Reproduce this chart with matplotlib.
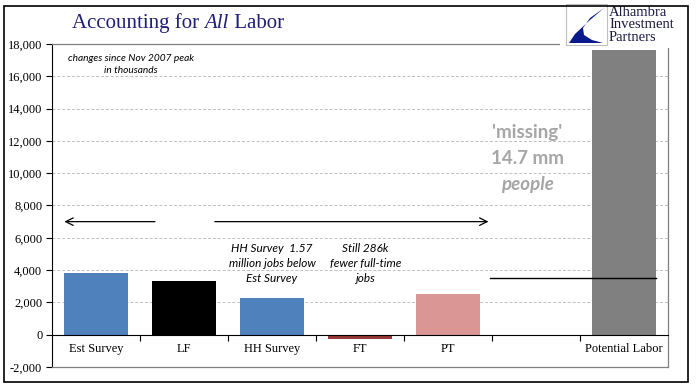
import matplotlib
matplotlib.use("Agg")
import matplotlib.pyplot as plt
from matplotlib.patches import Rectangle, Polygon

plt.rcParams["font.family"] = ["Liberation Serif", "DejaVu Serif"]
plt.rcParams["font.size"] = 9

categories = ["Est Survey", "LF", "HH Survey", "FT", "PT", "", "Potential Labor"]
values = [3820, 3300, 2250, -286, 2536, 0, 17600]
colors = ["#4F81BD", "#000000", "#4F81BD", "#953735", "#D99694", "#FFFFFF", "#808080"]
yticks = list(range(-2000, 18001, 2000))
missing_level = 3500
arrow_level = 7000

W, H = 696, 392
fig = plt.figure(figsize=(W / 100, H / 100), dpi=100)

def fx(px):
    return px / W

def fy(py):
    return 1 - py / H

ax = fig.add_axes([fx(52), fy(367), fx(668) - fx(52), fy(44) - fy(367)])
xs = list(range(len(categories)))
ax.bar(xs, values, width=0.72, color=colors, zorder=3)
ax.set_xlim(-0.5, len(categories) - 0.5)
ax.set_ylim(-2000, 18000)

ax.spines["bottom"].set_position(("data", 0))
ax.spines["bottom"].set_color("black")
ax.spines["bottom"].set_zorder(4)
ax.spines["left"].set_color("black")
for s in ["top", "right"]:
    ax.spines[s].set_color("#808080")
    ax.spines[s].set_linewidth(0.9)
ax.axhline(-2000, color="#808080", linewidth=0.9, clip_on=False, zorder=5)

ax.set_yticks(yticks)
ax.set_yticklabels([f"{v:,}" for v in yticks])
ax.yaxis.grid(True, color="#BFBFBF", linestyle=(0, (3, 2)), linewidth=0.7, zorder=0)
ax.tick_params(axis="y", direction="out", length=4, width=0.8, pad=3, labelsize=9)

ax.set_xticks(xs)
ax.set_xticklabels(categories)
ax.set_xticks([i + 0.5 for i in range(len(categories) - 1)], minor=True)
ax.tick_params(axis="x", which="major", length=0, pad=6, labelsize=9)
ax.tick_params(axis="x", which="minor", length=4, width=0.8, direction="out")

# arrows
ax.annotate("", xy=(-0.36, arrow_level), xytext=(0.67, arrow_level),
            arrowprops=dict(arrowstyle="->,head_length=0.6,head_width=0.3", lw=0.9, color="black",
                            shrinkA=0, shrinkB=0))
ax.annotate("", xy=(4.46, arrow_level), xytext=(1.35, arrow_level),
            arrowprops=dict(arrowstyle="->,head_length=0.6,head_width=0.3", lw=0.9, color="black",
                            shrinkA=0, shrinkB=0))
ax.plot([4.48, 6.36], [missing_level, missing_level], color="black", lw=1.0, zorder=4)

# annotations
ax.text(0.40, 16750, "changes since Nov 2007 peak\nin thousands", ha="center", va="center",
        fontfamily="Lato", style="italic", fontsize=7.3, linespacing=1.45)
ax.text(2.0, 4400, "HH Survey  1.57\nmillion jobs below\nEst Survey", ha="center", va="center",
        fontfamily="Lato", style="italic", fontsize=8.5, linespacing=1.45)
ax.text(3.06, 4400, "Still 286k\nfewer full-time\njobs", ha="center", va="center",
        fontfamily="Lato", style="italic", fontsize=8.5, linespacing=1.45)
ax.text(4.9, 12500, "'missing'", ha="center", va="center", fontfamily="Lato",
        fontweight="bold", fontsize=13.5, color="#A6A6A6")
ax.text(4.9, 10900, "14.7 mm", ha="center", va="center", fontfamily="Lato",
        fontweight="bold", fontsize=13.5, color="#A6A6A6")
ax.text(4.9, 9300, "people", ha="center", va="center", fontfamily="Lato",
        fontweight="bold", style="italic", fontsize=13.5, color="#A6A6A6")

# title
title_color = "#1F1F7A"
fig.canvas.draw()
r = fig.canvas.get_renderer()
t1 = fig.text(fx(72), fy(23), "Accounting for ", fontsize=15,
              color=title_color, va="center", ha="left")
e1 = t1.get_window_extent(r)
t2 = fig.text(e1.x1 / W, fy(23), "All", fontsize=15,
              style="italic", color=title_color, va="center", ha="left")
e2 = t2.get_window_extent(r)
t3 = fig.text(e2.x1 / W, fy(23), " Labor", fontsize=15,
              color=title_color, va="center", ha="left")

# logo
fig.patches.append(Rectangle((fx(560), fy(48)), fx(686) - fx(560), fy(0) - fy(48),
                             transform=fig.transFigure, facecolor="white", edgecolor="none", zorder=5))
fig.patches.append(Rectangle((fx(566), fy(45)), fx(607) - fx(566), fy(4) - fy(45),
                             transform=fig.transFigure, facecolor="white", edgecolor="#BFBFBF",
                             linewidth=0.8, zorder=6))
pts = [(604, 8), (590, 20), (575, 34), (569, 43), (603, 43), (592, 40), (584, 35), (583, 28), (590, 18)]
fig.patches.append(Polygon([(fx(a), fy(b)) for a, b in pts], closed=True, transform=fig.transFigure,
                           facecolor="#0A1A8C", edgecolor="none", zorder=7))
fig.text(fx(609), fy(25), "Alhambra\nInvestment\nPartners", fontsize=10.5,
         color="#1A1A40", va="center", ha="left", linespacing=0.92, zorder=8)

# outer frame
fig.patches.append(Rectangle((fx(4), fy(382)), fx(688) - fx(4), fy(6) - fy(382),
                             transform=fig.transFigure, facecolor="none", edgecolor="black",
                             linewidth=1.2, zorder=9))

fig.savefig("out.png", dpi=100)
